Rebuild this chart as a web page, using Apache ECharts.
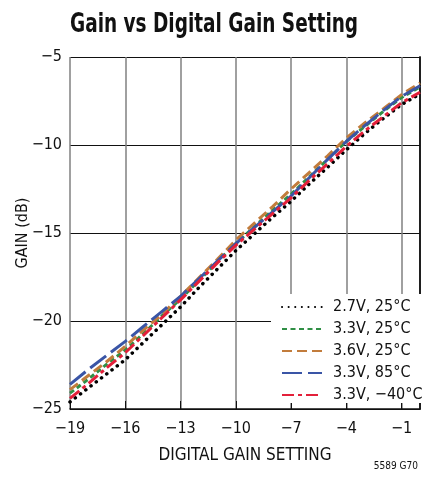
<!DOCTYPE html>
<html><head><meta charset="utf-8">
<script src="https://cdn.jsdelivr.net/npm/echarts@6/dist/echarts.min.js"></script>
<style>html,body{margin:0;padding:0;background:#fff}#c{width:430px;height:477px}</style>
</head><body><div id="c"></div>
<script>
const FONT = '"Liberation Sans Narrow","DejaVu Sans Condensed","Roboto Condensed",sans-serif';
const settings = [-19,-18,-17,-16,-15,-14,-13,-12,-11,-10,-9,-8,-7,-6,-5,-4,-3,-2,-1,0];
const xTicks = [-19,-16,-13,-10,-7,-4,-1];
const gain27v25 = [-24.6,-23.8,-23.0,-22.2,-21.2,-20.2,-19.2,-18.1,-17.05,-16.0,-15.05,-14.1,-13.2,-12.2,-11.25,-10.27,-9.35,-8.5,-7.7,-7.1];
const gain33v25 = [-24.1,-23.3,-22.45,-21.65,-20.7,-19.7,-18.75,-17.7,-16.65,-15.6,-14.65,-13.7,-12.8,-11.8,-10.8,-9.8,-8.95,-8.1,-7.3,-6.7];
const gain36v25 = [-23.9,-23.1,-22.3,-21.44,-20.5,-19.6,-18.6,-17.55,-16.5,-15.4,-14.45,-13.5,-12.5,-11.55,-10.6,-9.6,-8.75,-7.95,-7.14,-6.48];
const gain33v85 = [-23.6,-22.75,-21.95,-21.16,-20.3,-19.45,-18.6,-17.6,-16.6,-15.6,-14.7,-13.8,-12.9,-11.85,-10.8,-9.8,-8.9,-8.05,-7.24,-6.63];
const gain33vm40 = [-24.4,-23.55,-22.65,-21.8,-20.8,-19.8,-18.8,-17.75,-16.7,-15.7,-14.8,-13.9,-13.0,-12.0,-11.05,-10.08,-9.2,-8.4,-7.6,-7.0];
const seriesNames = ['2.7V, 25°C','3.3V, 25°C','3.6V, 25°C','3.3V, 85°C','3.3V, \u221240°C'];

const fmt = v => (v < 0 ? '\u2212' : '') + Math.abs(v);
const pair = arr => settings.map((x,i) => [x, arr[i]]);

const styles = [
  {color:'#000000', type:[0.1,6.5], cap:'round', width:3.5},
  {color:'#2f8f45', type:[5,3.5], cap:'butt', width:3},
  {color:'#c27c3c', type:[10,5], cap:'butt', width:3},
  {color:'#3a55a6', type:[20,6], cap:'butt', width:3},
  {color:'#e3203a', type:[12,4,4,4], cap:'butt', width:3}
];
const datas = [gain27v25, gain33v25, gain36v25, gain33v85, gain33vm40];

const chart = echarts.init(document.getElementById('c'), null, {renderer:'canvas'});
chart.setOption({
  animation:false,
  grid:{left:70, top:57, right:10, bottom:68, outerBoundsMode:'none', containLabel:false},
  legend:{orient:'vertical', left:271, top:294, width:140,
    padding:[5,6,0,10], itemGap:6, itemWidth:40, itemHeight:14,
    backgroundColor:'#fff', data:seriesNames,
    itemStyle:{color:'rgba(0,0,0,0)', borderWidth:0, opacity:0},
    textStyle:{fontFamily:FONT, fontSize:16, color:'#111', padding:[0,0,0,6]}},
  xAxis:{type:'value', min:-19, max:0,
    name:'DIGITAL GAIN SETTING', nameLocation:'middle', nameGap:38,
    nameTextStyle:{fontFamily:FONT, fontSize:17, color:'#111'},
    axisLine:{lineStyle:{color:'#111', width:1.5}},
    axisTick:{inside:true, length:8, customValues:xTicks, lineStyle:{color:'#111'}},
    axisLabel:{customValues:xTicks, formatter:fmt, margin:12, fontFamily:FONT, fontSize:16, color:'#111'},
    splitLine:{show:true, lineStyle:{color:'#808080', width:1.5}}},
  yAxis:[{type:'value', min:-25, max:-5, interval:5,
    name:'GAIN (dB)', nameLocation:'middle', nameGap:39, nameMoveOverlap:false,
    nameTextStyle:{fontFamily:FONT, fontSize:16, color:'#111'},
    axisLine:{show:true, lineStyle:{color:'#111', width:1.5}},
    axisTick:{show:false},
    axisLabel:{formatter:fmt, margin:8, fontFamily:FONT, fontSize:16, color:'#111'},
    splitLine:{show:true, lineStyle:{color:'#111', width:1}}},
   {type:'value', position:'right', min:-25, max:-5, interval:5,
    axisLine:{show:true, lineStyle:{color:'#111', width:1.5}},
    axisTick:{show:true, inside:true, length:4, lineStyle:{color:'#111'}},
    axisLabel:{show:false}, splitLine:{show:false}}],
  graphic:[
    {type:'text', left:70, top:12, scaleX:0.79, scaleY:1,
     style:{text:'Gain vs Digital Gain Setting', fontFamily:FONT, fontSize:26, fontWeight:'bold', fill:'#111'}},
    {type:'text', right:12, bottom:6,
     style:{text:'5589 G70', fontFamily:FONT, fontSize:10, fill:'#111'}}],
  series: datas.map((d,i) => ({
    name:seriesNames[i], type:'line', data:pair(d), symbol:'none',
    lineStyle:styles[i], itemStyle:{color:styles[i].color}
  }))
});
</script></body></html>
